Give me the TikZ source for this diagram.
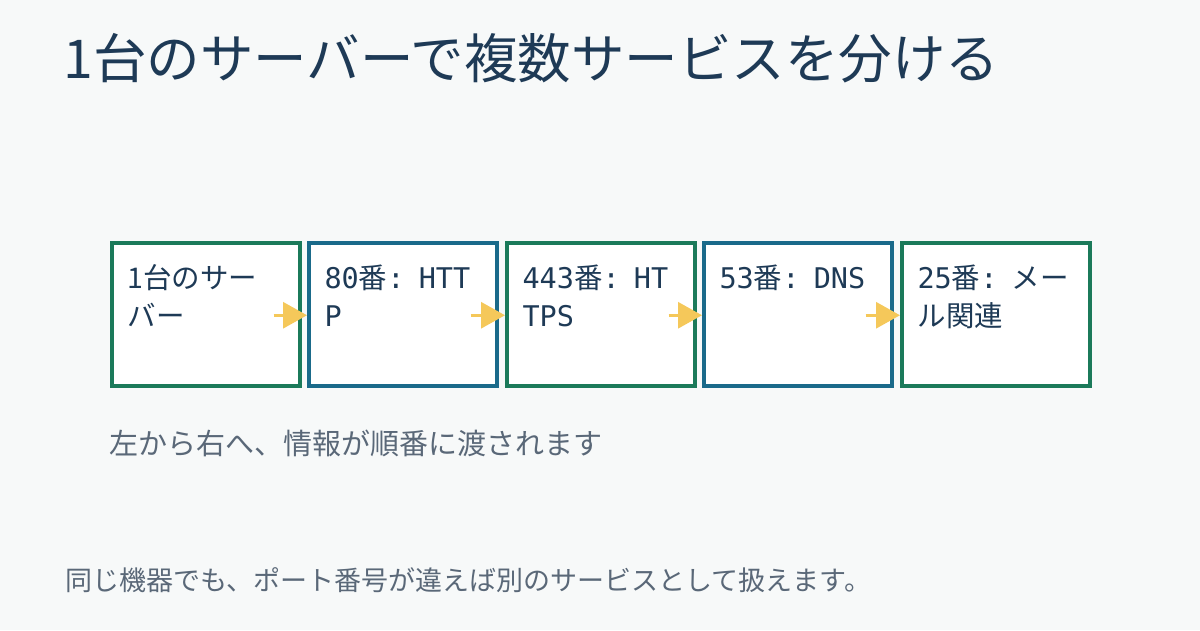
\documentclass[tikz,border=0pt]{standalone}
\usepackage{fontspec}
\setmainfont{Noto Sans CJK JP}
\newfontfamily\mn{DejaVu Sans Mono}
\usetikzlibrary{arrows.meta}
\definecolor{bg}{HTML}{F7F9F9}
\definecolor{ttl}{HTML}{1E3A56}
\definecolor{grn}{HTML}{1B7A5A}
\definecolor{blu}{HTML}{1A6A8A}
\definecolor{gry}{HTML}{5A6878}
\definecolor{ylw}{HTML}{F5C85A}
\begin{document}
\begin{tikzpicture}[x=1pt,y=-1pt,
  box/.style={draw=#1,line width=3.5pt,fill=white,minimum width=188pt,minimum height=143pt,anchor=north west,inner sep=0pt},
  lbl/.style={anchor=north west,text width=175pt,font=\fontsize{28.5}{38}\selectfont,text=ttl,align=left},
  con/.style={draw=ylw,line width=3pt,-{Triangle[length=24pt,width=26pt]}}]
\fill[bg] (0,0) rectangle (1200,630);
\useasboundingbox (0,0) rectangle (1200,630);
\node[anchor=west,text=ttl,font=\fontsize{53.5}{60}\selectfont] (t) at (60,58) {1台のサーバーで複数サービスを分ける};
\node[box=grn] (b1) at (110,241) {};
\node[box=blu] (b2) at (307,241) {};
\node[box=grn] (b3) at (505,241) {};
\node[box=blu] (b4) at (702,241) {};
\node[box=grn] (b5) at (900,241) {};
\node[lbl] (l1) at (124,261) {1台のサー\\バー};
\node[lbl] (l2) at (321,261) {{\mn 80}番{\mn : HTT}\\{\mn P}};
\node[lbl] (l3) at (519,261) {{\mn 443}番{\mn : HT}\\{\mn TPS}};
\node[lbl] (l4) at (716,261) {{\mn 53}番{\mn : DNS}};
\node[lbl] (l5) at (914,261) {{\mn 25}番{\mn :} メー\\ル関連};
\foreach \a/\b in {b1/b2,b2/b3,b3/b4,b4/b5}{
  \coordinate (s\a) at ([xshift=-28pt,yshift=-1pt]\a.east);
  \draw[con] (s\a) -- ([yshift=-1pt]\b.west);
}
\node[anchor=west,text=gry,font=\fontsize{29}{32}\selectfont] (c) at (106,443) {左から右へ、情報が順番に渡されます};
\node[anchor=west,text=gry,font=\fontsize{27}{30}\selectfont] (f) at (62,580) {同じ機器でも、ポート番号が違えば別のサービスとして扱えます。};
\end{tikzpicture}
\end{document}
